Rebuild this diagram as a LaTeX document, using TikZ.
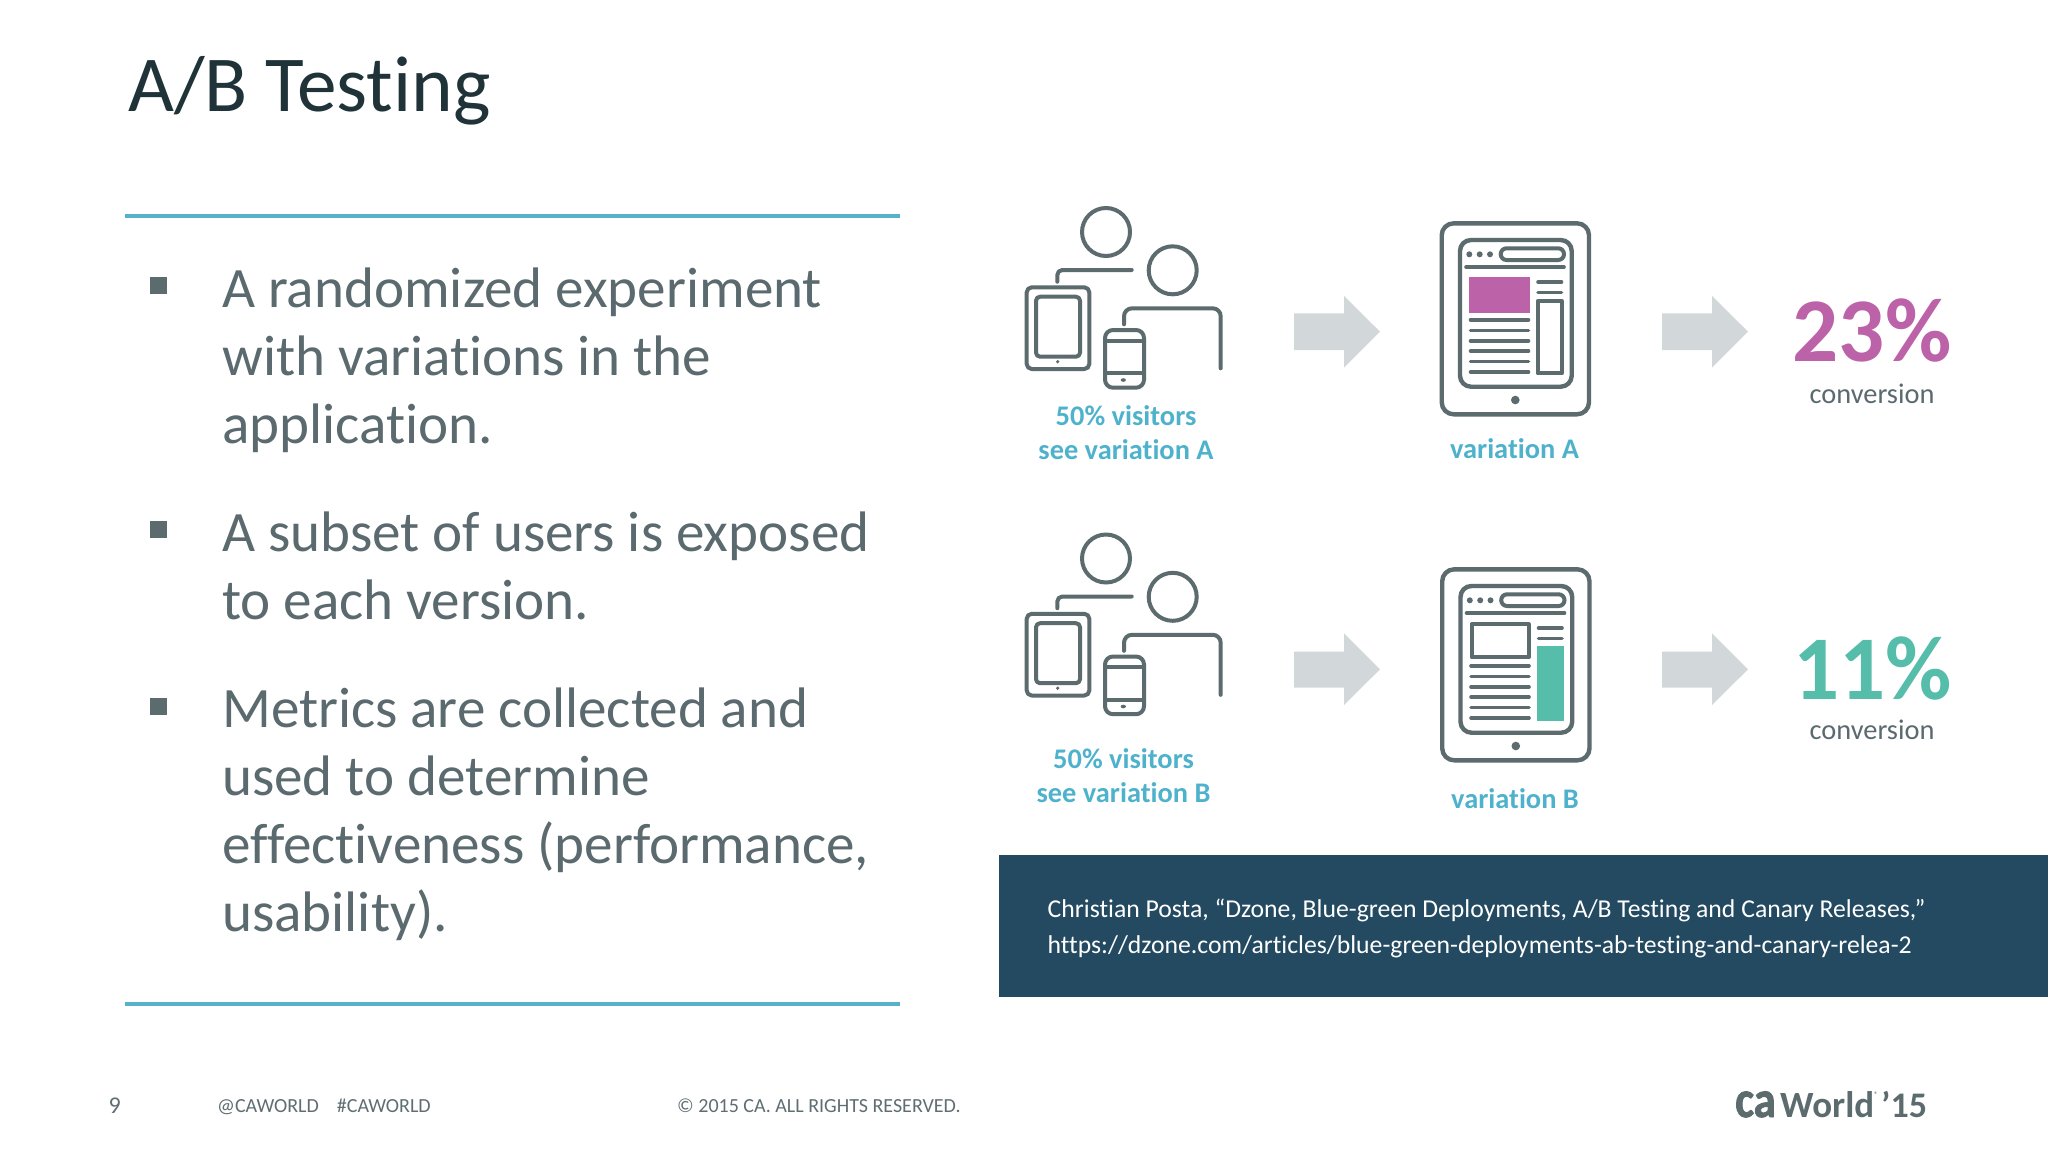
\documentclass[tikz,border=0pt]{standalone}
\usepackage{fontspec}
\setmainfont{Carlito}[Ligatures=NoCommon]
\newfontfamily\logofont[FakeStretch=0.86,Ligatures=NoCommon,BoldFont={Carlito Bold},BoldFeatures={FakeBold=1.6}]{Carlito}
\definecolor{titlecol}{HTML}{1F3339}
\definecolor{bodycol}{HTML}{5A6A6E}
\definecolor{iconcol}{HTML}{5C6B6E}
\definecolor{rulecol}{HTML}{57B1CB}
\definecolor{labelcol}{HTML}{4FB2CC}
\definecolor{pinkcol}{HTML}{BC62A8}
\definecolor{tealcol}{HTML}{55BDAA}
\definecolor{arrowcol}{HTML}{D2D8D9}
\definecolor{bannercol}{HTML}{234A60}
\definecolor{footcol}{HTML}{5F6E72}
\newcommand{\fs}[2]{\fontsize{#1}{#2}\selectfont}
\newcommand{\topstrut}{\rule{0pt}{50pt}}
\tikzset{
  x=1pt,y=-1pt,
  hairline/.style={draw=rulecol,line width=4pt},
  bulletmark/.style={fill=iconcol,draw=none},
  bodytext/.style={anchor=north west,inner sep=0pt,align=left,text=bodycol,font=\fs{57.1}{68}},
  bluelabel/.style={anchor=base,inner sep=0pt,text=labelcol,font=\fs{28.4}{34}\bfseries},
  bluelabeltwo/.style={anchor=north,inner sep=0pt,align=center,text=labelcol,font=\fs{28.4}{34}\bfseries},
  convtext/.style={anchor=base,inner sep=0pt,text=bodycol,font=\fs{28.4}{32}},
  bigpct/.style={anchor=base,inner sep=0pt,font=\fs{91}{94}\bfseries},
  foottext/.style={anchor=base west,inner sep=0pt,text=footcol,font=\fs{20}{22}},
  icon/.style={draw=iconcol,line width=4pt,line cap=round,line join=round},
  thin icon/.style={draw=iconcol,line width=3.6pt,line cap=round},
  grayarrow/.style={fill=arrowcol,draw=none},
  logotext/.style={anchor=base west,inner sep=0pt,text=iconcol},
  usersicon/.pic={
    \draw[icon] (1106,232) circle[radius=24];
    \draw[icon] (1172.7,270.3) circle[radius=24];
    \draw[icon,rounded corners=5pt] (1057.3,281.7) -- (1057.3,270) -- (1131.7,270);
    \draw[icon,rounded corners=5pt] (1026.7,287.3) rectangle (1089.3,369);
    \draw[icon,rounded corners=4pt] (1036,296.7) rectangle (1080,356.7);
    \fill[iconcol] (1057.7,361.7) circle[radius=1.8];
    \draw[icon,rounded corners=8pt] (1105,330) rectangle (1144,387.7);
    \draw[icon] (1105,340.7) -- (1144,340.7);
    \draw[icon] (1105,373.3) -- (1144,373.3);
    \fill[iconcol] (1123.3,380) ellipse[x radius=2.6,y radius=1.8];
    \draw[icon,rounded corners=8pt] (1124,324.3) -- (1124,308.3) -- (1220.7,308.3) -- (1220.7,368.3);
  },
  tabletframe/.pic={
    \draw[icon,line width=4.4pt,rounded corners=12pt] (1441.7,223.3) rectangle (1589,414.3);
    \draw[icon,line width=4.4pt,rounded corners=11pt] (1460,240) rectangle (1571.7,386.7);
    \fill[iconcol] (1469.3,254.3) circle[radius=3] (1479.7,254.3) circle[radius=3] (1490,254.3) circle[radius=3];
    \draw[icon,rounded corners=5.8pt] (1500.7,248.3) rectangle (1564,260);
    \draw[thin icon] (1466,267) -- (1564,267);
    \foreach \yy in {282,292.3}
      \draw[thin icon] (1538,\yy) -- (1561.5,\yy);
    \foreach \yy in {319.7,330.3,340.7,351,361.3,372}
      \draw[thin icon] (1470.5,\yy) -- (1528.5,\yy);
    \fill[iconcol] (1515.3,400) circle[radius=4.3];
  }
}
\begin{document}
\begin{tikzpicture}
\useasboundingbox (0,0) rectangle (2048,1152);
\fill[white] (0,0) rectangle (2048,1152);

% title
\node[anchor=base west,inner sep=0pt,text=titlecol,font=\fs{79.3}{84}] (title) at (128,111) {A/B Testing};

% rules
\draw[hairline] (125,215.5) -- (900,215.5);
\draw[hairline] (125,1004) -- (900,1004);

% bullets
\fill[bulletmark] (150,277) rectangle (167,294);
\fill[bulletmark] (150,521) rectangle (167,538);
\fill[bulletmark] (150,698) rectangle (167,715);
\node[bodytext] (b1) at (222,257) {\topstrut A randomized experiment\\with variations in the\\application.};
\node[bodytext] (b2) at (222,501) {\topstrut A subset of users is exposed\\to each version.};
\node[bodytext] (b3) at (222,677) {\topstrut Metrics are collected and\\used to determine\\effectiveness (performance,\\usability).};

% icons, row A
\pic {usersicon};
\pic {tabletframe};
\fill[pinkcol] (1469,277.3) rectangle (1530,312.7);
\draw[icon] (1537.7,301) rectangle (1561.7,373.3);
\node[bluelabeltwo] (visA) at (1126,400) {\rule{0pt}{25pt}50\% visitors\\see variation A};
\node[bluelabel] (varA) at (1514.5,458) {variation A};
\fill[grayarrow] (1294,313.3) -- (1344,313.3) -- (1344,296) -- (1380,331.7) -- (1344,367.7) -- (1344,350) -- (1294,350) -- cycle;
\fill[grayarrow] (1662,313.3) -- (1712,313.3) -- (1712,296) -- (1748,331.7) -- (1712,367.7) -- (1712,350) -- (1662,350) -- cycle;
\node[bigpct,text=pinkcol] (pctA) at (1872,361) {23\%};
\node[convtext] (convA) at (1872,403) {conversion};

% icons, row B
\begin{scope}[yshift=-326.5pt]
\pic {usersicon};
\end{scope}
\begin{scope}[yshift=-346pt,xshift=0.5pt]
\pic {tabletframe};
\draw[icon] (1471,278.3) rectangle (1528.3,311.3);
\fill[tealcol] (1536.7,300) rectangle (1563.3,374.7);
\end{scope}
\node[bluelabeltwo] (visB) at (1123.5,743) {\rule{0pt}{25pt}50\% visitors\\see variation B};
\node[bluelabel] (varB) at (1515,808) {variation B};
\fill[grayarrow] (1294,651.7) -- (1344,651.7) -- (1344,633.3) -- (1380,669.3) -- (1344,705) -- (1344,687.7) -- (1294,687.7) -- cycle;
\fill[grayarrow] (1662,651.7) -- (1712,651.7) -- (1712,633.3) -- (1748,669.3) -- (1712,705) -- (1712,687.7) -- (1662,687.7) -- cycle;
\node[bigpct,text=tealcol] (pctB) at (1872.5,699) {11\%};
\node[convtext] (convB) at (1872,739) {conversion};

% banner
\fill[bannercol] (999,855) rectangle (2048,996.5);
\node[anchor=north west,inner sep=0pt,align=left,text=white,font=\fs{25.7}{36.5}] (cite) at (1047.5,897) {\rule{0pt}{20pt}Christian Posta, “Dzone, Blue-green Deployments, A/B Testing and Canary Releases,”\\https://dzone.com/articles/blue-green-deployments-ab-testing-and-canary-relea-2};

% footer
\node[foottext,font=\fs{24}{26}] (page) at (108.5,1113) {9};
\node[foottext] (tags) at (217,1112) {@CAWORLD\hspace{18pt}\#CAWORLD};
\node[foottext] (copy) at (677,1112) {© 2015 CA. ALL RIGHTS RESERVED.};

% logo
\node[logotext,font={\logofont\fs{52}{54}\bfseries}] (logoca) at (1735,1117) {ca};
\node[logotext,font={\fs{37}{40}\bfseries}] (logoworld) at (1780,1117) {World};
\node[logotext,font=\fs{8}{8}] (logoreg) at (1874,1097) {®};
\node[logotext,font={\fs{36}{40}\bfseries}] (logoyear) at (1881,1117) {’15};
\end{tikzpicture}
\end{document}
